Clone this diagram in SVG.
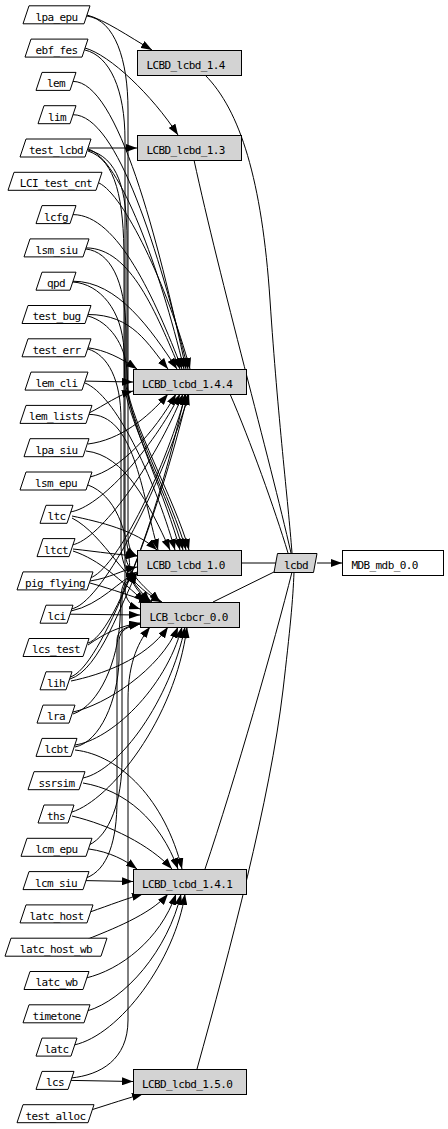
<svg xmlns="http://www.w3.org/2000/svg" width="448" height="1129" viewBox="0 0 448 1129">
<style>
.n polygon{fill:#fff;stroke:#000;stroke-width:1}
.b rect{fill:#d3d3d3;stroke:#000;stroke-width:1}
.w rect{fill:#fff;stroke:#000;stroke-width:1}
.g polygon{fill:#d3d3d3;stroke:#000;stroke-width:1}
text{font-family:"DejaVu Sans Mono","Liberation Mono",monospace;font-size:11px;letter-spacing:-0.6px;fill:#000}
.c{text-anchor:middle}
.s{text-anchor:start}
#edges path{fill:none;stroke:#000;stroke-width:1;marker-end:url(#ah)}
#edges path.u{marker-end:none}
</style>
<defs>
<marker id="ah" viewBox="0 0 11 8" refX="11" refY="4" markerWidth="11" markerHeight="8" markerUnits="userSpaceOnUse" orient="auto"><path d="M0,0L11,4L0,8z" fill="#000"/></marker>
</defs>
<rect width="448" height="1129" fill="#fff"/>
<g id="edges">
<path d="M87,15 C105,20 128,36 152,50"/>
<path d="M87,16 C115,20 128,60 128,110 L128,535 C128,547 131,553 137,556"/>
<path d="M85,48 C110,55 152,95 178,135"/>
<path d="M85,50 C110,56 125,90 125,140 L125,588 C125,600 131,606 140,609"/>
<path d="M73,81.4 C118,81.4 158,239.5 186,369"/>
<path d="M73,114.7 C118,114.7 159,254.6 188,369"/>
<path d="M88,148 L137,148"/>
<path d="M88,149 C120,158 160,269.5 184,369"/>
<path d="M88,150 C118,157 127,190 127,240 L127,385 C130,420 175,500 189,550"/>
<path d="M88,151 C116,160 124,200 124,260 L124,545 C124,572 143,585 160,602"/>
<path d="M99,183 C124,195 167,284.5 190,369"/>
<path d="M73,214.6 C118,214.6 155,299.5 182,369"/>
<path d="M86,247.9 C131,247.9 156.5,314.5 180,369"/>
<path d="M86,249 C110,252 125,280 126,330 L126,385 C129,420 172,500 186,550"/>
<path d="M73,281.2 C118,281.2 151,329.5 177,369"/>
<path d="M73,282 C100,284 122,310 124,350 L125,388 C128,420 170,500 183,550"/>
<path d="M88,314.5 C133,314.5 148,344.5 168,369"/>
<path d="M88,316 C110,322 125,345 127,370 L128,392 C131,425 167,500 180,550"/>
<path d="M88,347.8 C105,350 121,358 137,369"/>
<path d="M88,349 C108,355 121,380 121,420 L121,545 C121,572 138,588 150,602"/>
<path d="M85,381.1 L133,382"/>
<path d="M85,383 C115,395 153,474 175,550"/>
<path d="M89,413 C105,405 118,395 133,391"/>
<path d="M89,414.4 C134,414.4 141,489 158,550"/>
<path d="M88,444 C120,440 147.5,418 168,394"/>
<path d="M86,451 C125,455 149,504 170,550"/>
<path d="M90,477 C120,470 154,433 176,394"/>
<path d="M88,485 C115,495 128,530 130,570 C131,585 140,595 152,602"/>
<path d="M70,512 C100,508 153,448 180,394"/>
<path d="M72,516 C100,522 135,530 157,550"/>
<path d="M72,518 C105,535 125,585 162,602"/>
<path d="M72,545 C100,540 155,463 183,394"/>
<path d="M73,549 C100,552 120,555 137,556"/>
<path d="M73,551 C100,560 120,580 145,602"/>
<path d="M90,578 C115,570 162,478 186,394"/>
<path d="M90,581 C110,578 122,570 137,567"/>
<path d="M90,583 C115,590 130,596 150,602"/>
<path d="M71,609 C100,605 159,493 189,394"/>
<path d="M71,611 C100,605 120,580 137,572"/>
<path d="M70,614.2 L140,615"/>
<path d="M88,643 C115,635 160,508 185,394"/>
<path d="M88,645 C105,633 120,626 140,623"/>
<path d="M70,677 C100,670 158,520 188,394"/>
<path d="M70,679 C100,670 122,600 137,573"/>
<path d="M71,681 C100,675 145,660 168,627"/>
<path d="M73,712 C105,705 160,670 178,627"/>
<path d="M73,714 C100,705 118,660 120,620 L121,595 C122,582 128,576 137,574"/>
<path d="M75,745 C110,740 165,690 182,627"/>
<path d="M75,747 C100,742 118,700 119,660 L119,640 C120,630 128,626 140,624"/>
<path d="M75,750 C120,755 165,800 182,869"/>
<path d="M83,778 C120,770 170,700 185,627"/>
<path d="M83,783 C125,790 160,820 178,869"/>
<path d="M72,812 C110,800 175,720 187,627"/>
<path d="M72,816 C110,825 150,845 172,869"/>
<path d="M89,845 C110,835 122,800 122,760 L122,600 C122,585 128,578 137,574"/>
<path d="M89,849 C110,852 125,860 137,869"/>
<path d="M86,880.6 L133,881.5"/>
<path d="M86,878 C108,870 117,840 117,800 L117,640 C117,630 127,626 140,624"/>
<path d="M90,912 C110,905 128,898 143,894"/>
<path d="M88,939 C110,930 150,915 168,894"/>
<path d="M86,978 C120,970 160,940 176,894"/>
<path d="M87,1011 C125,1000 168,950 181,894"/>
<path d="M74,1045 C120,1035 175,960 185,894"/>
<path d="M71,1080.4 L133,1081.5"/>
<path d="M71,1078 C100,1075 128,1060 128,1020 L128,700 C128,660 140,640 150,627"/>
<path d="M91,1110 C110,1104 128,1098 143,1094"/>
<path class="u" d="M205,75 C240,110 262,180 270,300 C278,420 288,500 292,553"/>
<path class="u" d="M194,160 C220,280 270,460 291,553"/>
<path class="u" d="M230,394 C250,440 275,510 288,553"/>
<path class="u" d="M241,563 L277,563"/>
<path class="u" d="M213,602 L276,571"/>
<path class="u" d="M205,869 C235,780 275,640 292,572"/>
<path class="u" d="M197,1069 C230,950 270,800 283,690 C290,630 293,600 294,572"/>
<path d="M317,563 L342,563"/>
</g>
<g id="lpa_epu" class="n"><polygon points="29,5.8 90,5.8 84,23.8 23,23.8"/><text class="c" x="56.5" y="21">lpa_epu</text></g>
<g id="ebf_fes" class="n"><polygon points="31,39.1 88,39.1 82,57.1 25,57.1"/><text class="c" x="56.5" y="54">ebf_fes</text></g>
<g id="lem" class="n"><polygon points="42,72.4 76,72.4 70,90.4 36,90.4"/><text class="c" x="56" y="87">lem</text></g>
<g id="lim" class="n"><polygon points="44,105.7 76,105.7 70,123.7 38,123.7"/><text class="c" x="57" y="121">lim</text></g>
<g id="test_lcbd" class="n"><polygon points="26,139 91,139 85,157 20,157"/><text class="c" x="56" y="154">test_lcbd</text></g>
<g id="LCI_test_cnt" class="n"><polygon points="14,172.3 102,172.3 96,190.3 8,190.3"/><text class="c" x="56" y="187">LCI_test_cnt</text></g>
<g id="lcfg" class="n"><polygon points="42,205.6 76,205.6 70,223.6 36,223.6"/><text class="c" x="56" y="221">lcfg</text></g>
<g id="lsm_siu" class="n"><polygon points="30,238.9 89,238.9 83,256.9 24,256.9"/><text class="c" x="56.5" y="254">lsm_siu</text></g>
<g id="qpd" class="n"><polygon points="42,272.2 76,272.2 70,290.2 36,290.2"/><text class="c" x="56" y="287">qpd</text></g>
<g id="test_bug" class="n"><polygon points="28,305.5 91,305.5 85,323.5 22,323.5"/><text class="c" x="56.5" y="320">test_bug</text></g>
<g id="test_err" class="n"><polygon points="28,338.8 91,338.8 85,356.8 22,356.8"/><text class="c" x="56.5" y="354">test_err</text></g>
<g id="lem_cli" class="n"><polygon points="31,372.1 88,372.1 82,390.1 25,390.1"/><text class="c" x="56.5" y="387">lem_cli</text></g>
<g id="lem_lists" class="n"><polygon points="26,405.4 92,405.4 86,423.4 20,423.4"/><text class="c" x="56" y="420">lem_lists</text></g>
<g id="lpa_siu" class="n"><polygon points="30,438.7 89,438.7 83,456.7 24,456.7"/><text class="c" x="56.5" y="454">lpa_siu</text></g>
<g id="lsm_epu" class="n"><polygon points="26,472 92,472 86,490 20,490"/><text class="c" x="56" y="487">lsm_epu</text></g>
<g id="ltc" class="n"><polygon points="46,505.3 73,505.3 67,523.3 40,523.3"/><text class="c" x="56.5" y="520">ltc</text></g>
<g id="ltct" class="n"><polygon points="43,538.6 75,538.6 69,556.6 37,556.6"/><text class="c" x="56" y="554">ltct</text></g>
<g id="pig_flying" class="n"><polygon points="23,571.9 93,571.9 87,589.9 17,589.9"/><text class="c" x="55" y="587">pig_flying</text></g>
<g id="lci" class="n"><polygon points="46,605.2 73,605.2 67,623.2 40,623.2"/><text class="c" x="56.5" y="620">lci</text></g>
<g id="lcs_test" class="n"><polygon points="29,638.5 89,638.5 83,656.5 23,656.5"/><text class="c" x="56" y="653">lcs_test</text></g>
<g id="lih" class="n"><polygon points="46,671.8 72,671.8 66,689.8 40,689.8"/><text class="c" x="56" y="687">lih</text></g>
<g id="lra" class="n"><polygon points="43,705.1 75,705.1 69,723.1 37,723.1"/><text class="c" x="56" y="720">lra</text></g>
<g id="lcbt" class="n"><polygon points="42,738.4 77,738.4 71,756.4 36,756.4"/><text class="c" x="56.5" y="753">lcbt</text></g>
<g id="ssrsim" class="n"><polygon points="34,771.7 85,771.7 79,789.7 28,789.7"/><text class="c" x="56.5" y="787">ssrsim</text></g>
<g id="ths" class="n"><polygon points="44,805 74,805 68,823 38,823"/><text class="c" x="56" y="820">ths</text></g>
<g id="lcm_epu" class="n"><polygon points="27,838.3 92,838.3 86,856.3 21,856.3"/><text class="c" x="56.5" y="853">lcm_epu</text></g>
<g id="lcm_siu" class="n"><polygon points="29,871.6 89,871.6 83,889.6 23,889.6"/><text class="c" x="56" y="887">lcm_siu</text></g>
<g id="latc_host" class="n"><polygon points="26,904.9 93,904.9 87,922.9 20,922.9"/><text class="c" x="56.5" y="920">latc_host</text></g>
<g id="latc_host_wb" class="n"><polygon points="11,938.2 107,938.2 101,956.2 5,956.2"/><text class="c" x="56" y="953">latc_host_wb</text></g>
<g id="latc_wb" class="n"><polygon points="30,971.5 89,971.5 83,989.5 24,989.5"/><text class="c" x="56.5" y="986">latc_wb</text></g>
<g id="timetone" class="n"><polygon points="29,1004.8 90,1004.8 84,1022.8 23,1022.8"/><text class="c" x="56.5" y="1020">timetone</text></g>
<g id="latc" class="n"><polygon points="42,1038.1 77,1038.1 71,1056.1 36,1056.1"/><text class="c" x="56.5" y="1053">latc</text></g>
<g id="lcs" class="n"><polygon points="42,1071.4 74,1071.4 68,1089.4 36,1089.4"/><text class="c" x="55" y="1086">lcs</text></g>
<g id="test_alloc" class="n"><polygon points="23,1104.7 94,1104.7 88,1122.7 17,1122.7"/><text class="c" x="55.5" y="1120">test_alloc</text></g>
<g id="LCBD_lcbd_1.4" class="b"><rect x="137.5" y="50.5" width="104" height="25"/><text class="s" x="146.5" y="68.5">LCBD_lcbd_1.4</text></g>
<g id="LCBD_lcbd_1.3" class="b"><rect x="137.5" y="135.5" width="104" height="25"/><text class="s" x="146.5" y="153.5">LCBD_lcbd_1.3</text></g>
<g id="LCBD_lcbd_1.4.4" class="b"><rect x="133.5" y="369.5" width="113" height="25"/><text class="s" x="142" y="387.5">LCBD_lcbd_1.4.4</text></g>
<g id="LCBD_lcbd_1.0" class="b"><rect x="137.5" y="550.5" width="104" height="25"/><text class="s" x="146.5" y="568.5">LCBD_lcbd_1.0</text></g>
<g id="LCB_lcbcr_0.0" class="b"><rect x="140.5" y="602.5" width="99" height="25"/><text class="s" x="149.5" y="620.5">LCB_lcbcr_0.0</text></g>
<g id="LCBD_lcbd_1.4.1" class="b"><rect x="133.5" y="869.5" width="113" height="25"/><text class="s" x="142" y="887.5">LCBD_lcbd_1.4.1</text></g>
<g id="LCBD_lcbd_1.5.0" class="b"><rect x="133.5" y="1069.5" width="113" height="25"/><text class="s" x="142" y="1087.5">LCBD_lcbd_1.5.0</text></g>
<g id="lcbd" class="g"><polygon points="277.5,553.5 317,553.5 313.5,572.5 274,572.5"/><text class="c" x="296" y="568.5">lcbd</text></g>
<g id="MDB_mdb_0.0" class="w"><rect x="342.5" y="550.5" width="101" height="25"/><text class="s" x="351.5" y="568.5">MDB_mdb_0.0</text></g>
</svg>
